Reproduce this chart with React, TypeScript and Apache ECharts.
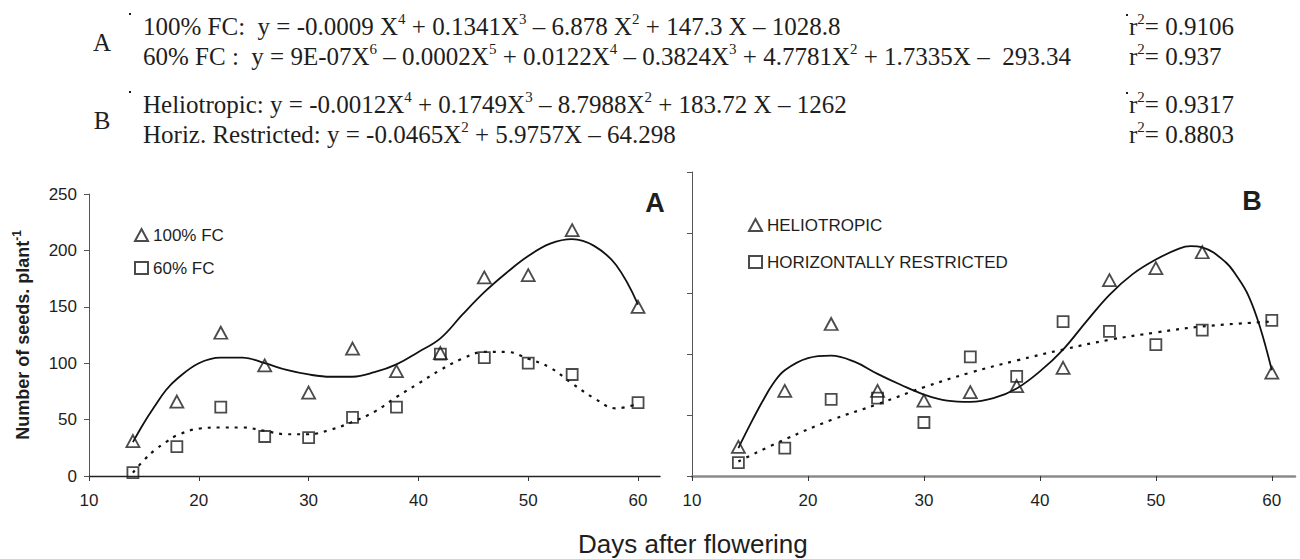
import React, { useEffect, useRef } from 'react';
import * as echarts from 'echarts';

// ---- data ----
const days = [14, 18, 22, 26, 30, 34, 38, 42, 46, 50, 54, 60];
const fc100 = [31, 66, 127, 98, 74, 113, 93, 109, 176, 178, 218, 150];
const fc60 = [3, 26, 61, 35, 34, 52, 61, 108, 105, 100, 90, 65];
const helio = [24, 70, 125, 70, 62, 69, 74, 89, 161, 171, 184, 85];
const horiz = [11, 23, 63, 64, 44, 98, 82, 127, 119, 108, 120, 128];

const fitDaysA = [14, 15, 16, 17, 18, 20, 22, 24, 26, 28, 30, 32, 34, 36, 38, 40, 42, 44, 46, 48, 50, 52, 54, 56, 58, 60];
const fc100Fit = [30, 47, 62, 76, 86, 100, 105, 105, 100, 94, 90, 88, 88, 92, 99, 110, 122, 143, 163, 180, 195, 206, 210, 204, 187, 152];
const fc60Fit = [3, 14, 23, 30, 36, 42, 43, 43, 40, 37, 37, 41, 48, 57, 70, 82, 94, 104, 110, 110, 104, 96, 82, 69, 60, 64];
const fitDaysHelio = [14, 15, 16, 17, 18, 20, 22, 24, 26, 28, 30, 32, 34, 36, 38, 40, 42, 44, 46, 48, 50, 52, 53, 54, 56, 57, 58, 59, 60];
const helioFit = [23, 42, 60, 76, 87, 97, 99, 94, 84, 75, 67, 62, 61, 64, 72, 86, 104, 127, 149, 166, 178, 187, 189, 188, 176, 164, 148, 122, 87];
const fitDaysHoriz = [14, 18, 22, 26, 30, 34, 38, 42, 46, 50, 54, 60];
const horizFit = [12, 30, 46, 59, 73, 85, 95, 104, 112, 118, 123, 127];

const xTicks = [10, 20, 30, 40, 50, 60];

const namesA = ['100% FC', '60% FC'];
const namesB = ['HELIOTROPIC', 'HORIZONTALLY RESTRICTED'];

const equationsA = [
  '100% FC:  y = -0.0009 X{s|4} + 0.1341X{s|3} – 6.878 X{s|2} + 147.3 X – 1028.8',
  '60% FC :  y = 9E-07X{s|6} – 0.0002X{s|5} + 0.0122X{s|4} – 0.3824X{s|3} + 4.7781X{s|2} + 1.7335X –  293.34',
];
const equationsB = [
  'Heliotropic: y = -0.0012X{s|4} + 0.1749X{s|3} – 8.7988X{s|2} + 183.72 X – 1262',
  'Horiz. Restricted: y = -0.0465X{s|2} + 5.9757X – 64.298',
];
const r2A = ['0.9106', '0.937'];
const r2B = ['0.9317', '0.8803'];

const SANS = 'Arial, "Liberation Sans", sans-serif';
const SERIF = '"Times New Roman", "Liberation Serif", serif';
const INK = '#1e1e1e';

const zip = (xs: number[], ys: number[]) => xs.map((x, i) => [x, ys[i]]);

export default function App() {
  const ref = useRef<HTMLDivElement>(null);
  useEffect(() => {
    if (!ref.current) return;
    const chart = echarts.init(ref.current, null, { renderer: 'svg' });

    const eqFont = 25;
    const rich = {
      s: { fontSize: 15, fontFamily: SERIF, fill: INK, verticalAlign: 'top' },
    };
    const eqText = (text: string, x: number, y: number) => ({
      type: 'text',
      x,
      y,
      style: {
        text,
        fontSize: eqFont,
        fontFamily: SERIF,
        fill: INK,
        lineHeight: 30,
        verticalAlign: 'middle',
        align: 'left',
        rich,
      },
    });
    const eqX = 143;
    const r2X = 1129;
    const eqY = [26, 56, 104, 134];
    const dot = (x: number, y: number) => ({ type: 'rect', shape: { x, y, width: 2, height: 2 }, style: { fill: INK } });
    const graphic: any[] = [
      { type: 'text', x: 102, y: 42, style: { text: 'A', fontSize: eqFont, fontFamily: SERIF, fill: INK, align: 'center', verticalAlign: 'middle' } },
      { type: 'text', x: 102, y: 120, style: { text: 'B', fontSize: eqFont, fontFamily: SERIF, fill: INK, align: 'center', verticalAlign: 'middle' } },
      eqText(equationsA[0], eqX, eqY[0]),
      eqText(equationsA[1], eqX, eqY[1]),
      eqText(equationsB[0], eqX, eqY[2]),
      eqText(equationsB[1], eqX, eqY[3]),
      eqText('r{s|2}= ' + r2A[0], r2X, eqY[0]),
      eqText('r{s|2}= ' + r2A[1], r2X, eqY[1]),
      eqText('r{s|2}= ' + r2B[0], r2X, eqY[2]),
      eqText('r{s|2}= ' + r2B[1], r2X, eqY[3]),
      dot(129, 13),
      dot(129, 91),
      dot(r2X - 3, 14),
      dot(r2X - 3, 92),
      { type: 'text', x: 655, y: 203, style: { text: 'A', fontSize: 27, fontWeight: 'bold', fontFamily: SANS, fill: INK, align: 'center', verticalAlign: 'middle' } },
      { type: 'text', x: 1252, y: 201, style: { text: 'B', fontSize: 27, fontWeight: 'bold', fontFamily: SANS, fill: INK, align: 'center', verticalAlign: 'middle' } },
      {
        type: 'text', x: 23, y: 335, rotation: Math.PI / 2,
        style: {
          text: 'Number of seeds. plant{s|-1}',
          fontSize: 18, fontWeight: 'bold', fontFamily: SANS, fill: INK,
          align: 'center', verticalAlign: 'middle', lineHeight: 24,
          rich: { s: { fontSize: 12, fontWeight: 'bold', fontFamily: SANS, fill: INK, verticalAlign: 'top' } },
        },
      },
      { type: 'text', x: 578, y: 544, style: { text: 'Days after flowering', fontSize: 26, fontFamily: SANS, fill: INK, align: 'left', verticalAlign: 'middle' } },
    ];

    const xAxisBase = (gridIndex: number, color: string, width: number) => ({
      type: 'value', gridIndex, min: 10, max: 62, interval: 10,
      axisLine: { show: true, lineStyle: { color, width } },
      axisTick: { show: true, length: 5, customValues: xTicks, lineStyle: { color: '#333' } },
      axisLabel: { customValues: xTicks, fontSize: 17, color: INK, fontFamily: SANS, margin: 16 },
      splitLine: { show: false },
    });
    const yAxisBase = (gridIndex: number, showLabel: boolean) => ({
      type: 'value', gridIndex, min: 0, max: 250, interval: 50,
      axisLine: { show: true, lineStyle: { color: '#555', width: 1 } },
      axisTick: { show: true, length: 5, lineStyle: { color: '#555' } },
      axisLabel: { show: showLabel, fontSize: 17, color: INK, fontFamily: SANS, margin: 12 },
      splitLine: { show: false },
    });

    const markerStyle = { color: 'rgba(0,0,0,0)', borderColor: INK, borderWidth: 1.8 };
    const scatter = (name: string, xi: number, xs: number[], ys: number[], symbol: string, size: any) => ({
      type: 'scatter', name, xAxisIndex: xi, yAxisIndex: xi, data: zip(xs, ys),
      symbol, symbolSize: size, itemStyle: markerStyle, z: 5,
    });
    const fitLine = (name: string, xi: number, xs: number[], ys: number[], dashed: boolean) => ({
      type: 'line', name, xAxisIndex: xi, yAxisIndex: xi, data: zip(xs, ys),
      smooth: 0.4, showSymbol: false, symbol: 'none',
      lineStyle: { color: '#111', width: dashed ? 2.2 : 1.8, type: dashed ? [3, 6] : 'solid' },
      z: 3,
    });

    chart.setOption({
      animation: false,
      backgroundColor: '#ffffff',
      grid: [
        { left: 89, top: 194, width: 571, height: 282 },
        { left: 692, top: 172, width: 603, height: 304 },
      ],
      xAxis: [xAxisBase(0, '#222', 1.4), xAxisBase(1, '#8a8a8a', 2.5)],
      yAxis: [yAxisBase(0, true), yAxisBase(1, false)],
      legend: [
        {
          data: namesA, orient: 'vertical', left: 129, top: 220, itemWidth: 13, itemHeight: 12,
          itemGap: 13, selectedMode: false,
          textStyle: { fontSize: 17, color: INK, fontFamily: SANS, lineHeight: 20 },
        },
        {
          data: namesB, orient: 'vertical', left: 743, top: 210, itemWidth: 13, itemHeight: 12,
          itemGap: 17, selectedMode: false,
          textStyle: { fontSize: 17, color: INK, fontFamily: SANS, lineHeight: 20 },
        },
      ],
      series: [
        fitLine('fit100', 0, fitDaysA, fc100Fit, false),
        fitLine('fit60', 0, fitDaysA, fc60Fit, true),
        scatter(namesA[0], 0, days, fc100, 'triangle', [13, 12]),
        scatter(namesA[1], 0, days, fc60, 'rect', 11),
        fitLine('fitHelio', 1, fitDaysHelio, helioFit, false),
        fitLine('fitHoriz', 1, fitDaysHoriz, horizFit, true),
        scatter(namesB[0], 1, days, helio, 'triangle', [13, 12]),
        scatter(namesB[1], 1, days, horiz, 'rect', 11),
      ],
      graphic,
    });
    return () => chart.dispose();
  }, []);

  return <div ref={ref} style={{ position: 'absolute', left: 0, top: 0, width: 1300, height: 559 }} />;
}
